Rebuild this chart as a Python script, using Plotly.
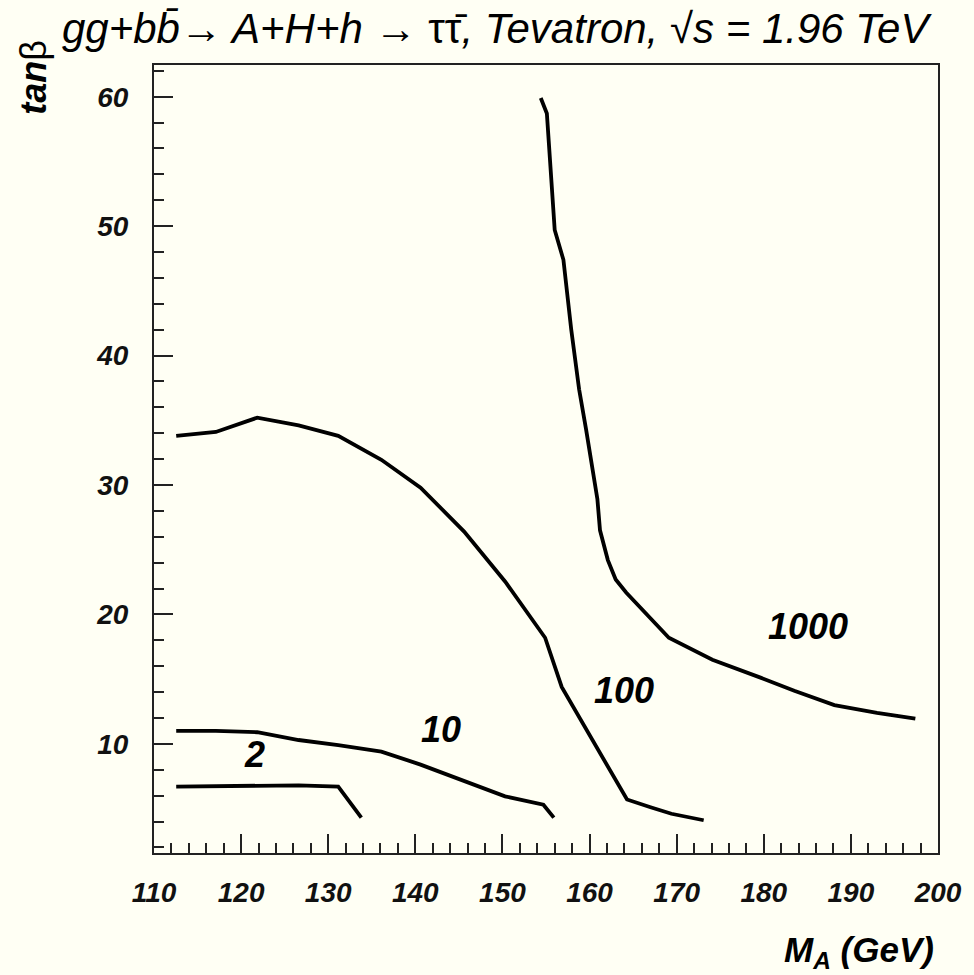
import plotly.graph_objects as go

# Contour curves (M_A in GeV, tan beta)
c1000_x = [154.4, 155.1, 156.0, 157.0, 157.9, 158.8, 159.6, 160.4, 160.9, 161.2, 162.1, 163.0, 164.2,
           169.1, 174.1, 179.7, 183.5, 188.1, 193.0, 197.4]
c1000_y = [59.9, 58.7, 49.7, 47.4, 42.0, 37.4, 34.3, 31.2, 28.9, 26.5, 24.2, 22.7, 21.7,
           18.2, 16.5, 15.1, 14.1, 13.0, 12.4, 11.95]

c100_x = [112.55, 117.1, 121.85, 126.6, 131.15, 136.1, 140.6, 145.6, 150.3, 154.9, 156.8, 160.8,
          162.7, 164.3, 167.0, 169.4, 173.1]
c100_y = [33.8, 34.1, 35.2, 34.6, 33.8, 31.95, 29.8, 26.4, 22.55, 18.2, 14.4, 9.8,
          7.6, 5.7, 5.1, 4.6, 4.1]

c10_x = [112.55, 117.1, 121.85, 126.6, 131.15, 136.1, 140.6, 145.6, 150.3, 154.7, 155.9]
c10_y = [11.0, 11.0, 10.9, 10.3, 9.9, 9.4, 8.4, 7.1, 5.95, 5.3, 4.3]

c2_x = [112.55, 121.85, 126.6, 131.15, 133.8]
c2_y = [6.7, 6.8, 6.8, 6.7, 4.3]

label_text = ["1000", "100", "10", "2"]
label_x = [185.1, 163.95, 143.0, 121.5]
label_y = [19.1, 14.1, 11.1, 9.2]

x_ticks = [110, 120, 130, 140, 150, 160, 170, 180, 190, 200]
y_ticks = [10, 20, 30, 40, 50, 60]

BG = "#fffff4"
FONT = "Liberation Sans"

fig = go.Figure()
for xs, ys in [(c1000_x, c1000_y), (c100_x, c100_y), (c10_x, c10_y), (c2_x, c2_y)]:
    fig.add_trace(go.Scatter(x=xs, y=ys, mode="lines",
                             line=dict(color="black", width=3.8),
                             showlegend=False, hoverinfo="skip"))

for t, xx, yy in zip(label_text, label_x, label_y):
    fig.add_annotation(x=xx, y=yy, xref="x", yref="y", text="<b><i>%s</i></b>" % t,
                       showarrow=False, font=dict(family=FONT, size=36, color="black"))

axis_common = dict(
    showgrid=False, zeroline=False, showline=True, linecolor="#222222", linewidth=2,
    mirror=True, ticks="inside", tickwidth=2, tickcolor="#222222", ticklen=19,
    tickfont=dict(family=FONT, size=28, color="#111111", weight="bold", style="italic"),
)

fig.update_xaxes(range=[110, 200], tickmode="array", tickvals=x_ticks,
                 ticktext=[str(v) for v in x_ticks], ticklabelstandoff=13,
                 minor=dict(dtick=2, tick0=110, ticks="inside", ticklen=10, tickwidth=1.5,
                            tickcolor="#222222"),
                 **axis_common)
fig.update_yaxes(range=[1.57, 62.45], tickmode="array", tickvals=y_ticks,
                 ticktext=[str(v) for v in y_ticks], ticklabelstandoff=18,
                 minor=dict(dtick=2, tick0=0, ticks="inside", ticklen=10, tickwidth=1.5,
                            tickcolor="#222222"),
                 **axis_common)

title = ("<i>gg+bb\u0304</i>\u2192<i> A+H+h </i>\u2192 \u03c4\u03c4\u0304"
         "<i>, Tevatron, </i>\u221a<i>s = 1.96 TeV</i>")
fig.add_annotation(xref="paper", yref="paper", x=0.438, y=1.046, xanchor="center", yanchor="middle",
                   text=title, showarrow=False, font=dict(family=FONT, size=42, color="black"))
fig.add_annotation(xref="paper", yref="paper", x=-0.153, y=0.984, xanchor="center", yanchor="middle",
                   textangle=-90, text="<b><i>tan</i></b>\u03b2", showarrow=False,
                   font=dict(family=FONT, size=36, color="black"))
fig.add_annotation(xref="paper", yref="paper", x=0.9975, y=-0.1256, xanchor="right", yanchor="middle",
                   text="<b><i>M<sub>A</sub> (GeV)</i></b>", showarrow=False,
                   font=dict(family=FONT, size=35, color="black"))

fig.update_layout(width=974, height=975, autosize=False,
                  margin=dict(l=154, r=30, t=65, b=122),
                  paper_bgcolor=BG, plot_bgcolor=BG)
fig.write_html("out.html")
